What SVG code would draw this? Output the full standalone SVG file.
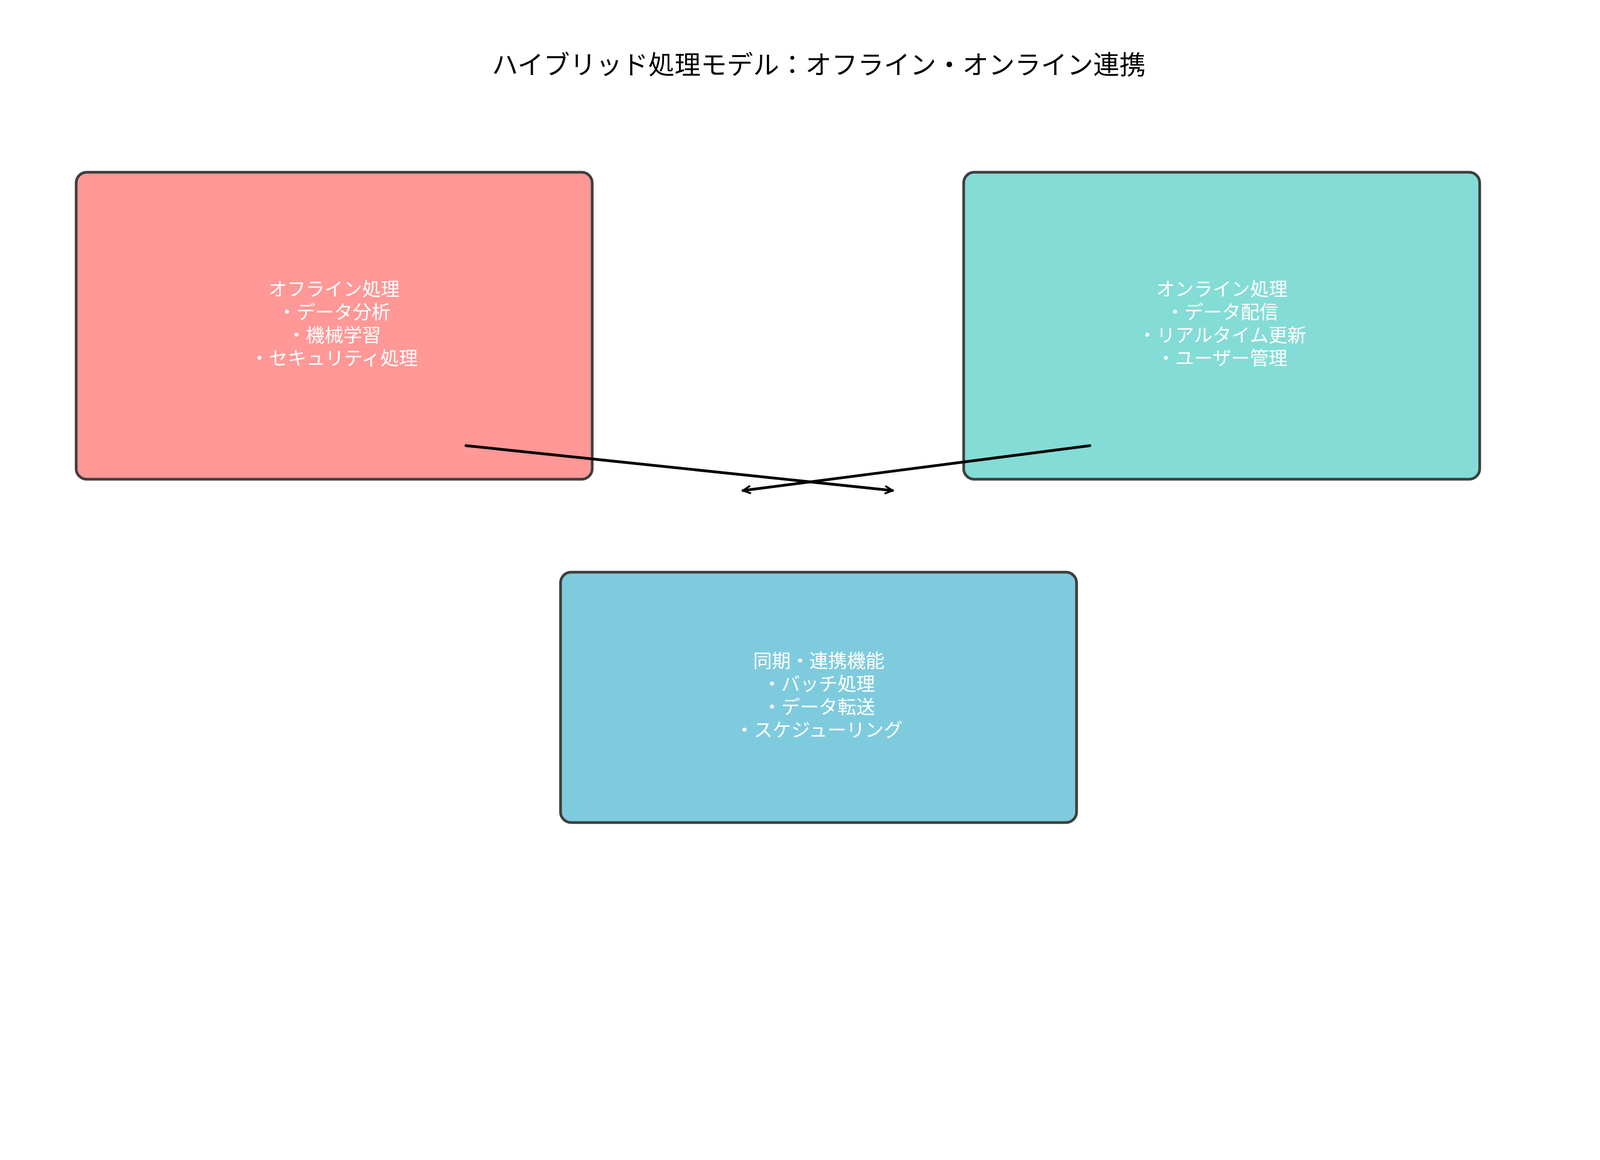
<svg xmlns="http://www.w3.org/2000/svg" width="4170" height="2970" viewBox="0 0 4170 2970">
<style>
.box{stroke:#404040;stroke-width:7}
.t{font-family:"Noto Sans CJK JP","Liberation Sans",sans-serif;font-size:48px;fill:#fff;text-anchor:middle}
.title{font-family:"Noto Sans CJK JP","Liberation Sans",sans-serif;font-size:67px;fill:#000;text-anchor:middle}
.c{stroke:#000;stroke-width:7;fill:none;stroke-linecap:round}
</style>
<defs>
<marker id="a" viewBox="0 0 10 10" refX="9" refY="5" markerWidth="3.5" markerHeight="3.5" orient="auto" markerUnits="strokeWidth">
<path d="M1,1 L9,5 L1,9" fill="none" stroke="#000" stroke-width="2"/>
</marker>
</defs>
<rect width="4170" height="2970" fill="#fff"/>
<text class="title" x="2096" y="190">ハイブリッド処理モデル：オフライン・オンライン連携</text>
<g id="offline">
<rect class="box" x="195" y="441" width="1321" height="786" rx="27" fill="#FF9896"/>
<text class="t" x="855" y="757">オフライン処理</text>
<text class="t" x="855" y="816">・データ分析</text>
<text class="t" x="855" y="875">・機械学習</text>
<text class="t" x="855" y="934">・セキュリティ処理</text>
</g>
<g id="online">
<rect class="box" x="2467" y="441" width="1321" height="786" rx="27" fill="#84DCD6"/>
<text class="t" x="3128" y="757">オンライン処理</text>
<text class="t" x="3128" y="816">・データ配信</text>
<text class="t" x="3128" y="875">・リアルタイム更新</text>
<text class="t" x="3128" y="934">・ユーザー管理</text>
</g>
<g id="sync">
<rect class="box" x="1435" y="1465" width="1321" height="641" rx="27" fill="#7FCBDE"/>
<text class="t" x="2096" y="1709">同期・連携機能</text>
<text class="t" x="2096" y="1768">・バッチ処理</text>
<text class="t" x="2096" y="1827">・データ転送</text>
<text class="t" x="2096" y="1886">・スケジューリング</text>
</g>
<g id="connectors">
<line class="c" x1="1193" y1="1141" x2="2285" y2="1256" marker-end="url(#a)"/>
<line class="c" x1="2790" y1="1141" x2="1902" y2="1256" marker-end="url(#a)"/>
</g>
</svg>
